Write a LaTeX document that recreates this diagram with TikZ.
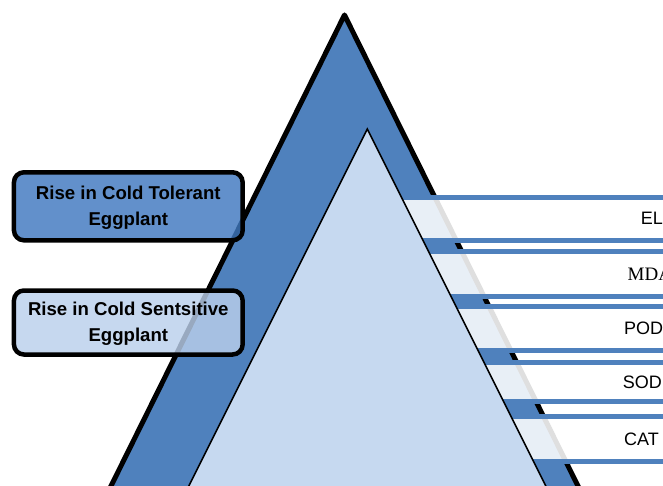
\documentclass[tikz,border=0pt]{standalone}
\usepackage{fontspec}
\setmainfont{Liberation Sans}
\newfontfamily\mdafont{Liberation Serif}
\usetikzlibrary{positioning, calc}

\definecolor{triblue}{HTML}{4F81BD}
\definecolor{trilight}{HTML}{C6D9F0}
\definecolor{tolblue}{HTML}{3F78BF}
\definecolor{senblue}{HTML}{BACFEB}

\begin{document}
\begin{tikzpicture}[x=1pt, y=-1pt, every node/.style={inner sep=0pt}
    , band/.style={fill=white, fill opacity=0.875, draw=triblue, line width=5pt}
    , risebox/.style={minimum width=228.7pt, rounded corners=10pt, draw=black,
        line width=4.5pt, fill opacity=0.82}
    , risetext/.style={align=center, font=\bfseries\fontsize{18.6}{26.4}\selectfont}
    , enzyme/.style={anchor=base west, font=\fontsize{18}{21}\selectfont}
    ]

    \useasboundingbox (0,0) rectangle (663,486);
    \clip (0,0) rectangle (663,486);

    \coordinate (outtop) at (344.5,15);
    \coordinate (intop) at (367.3,129);

    % outer pyramid
    \draw[fill=triblue, line width=5pt, line join=round]
        (outtop) -- ++(-290,585) -- ++(580,0) -- cycle;

    % enzyme bands, they go under the inner pyramid
    \foreach \top/\bot/\base/\tx/\lab [count=\i] in
        {197.5/240/225/640.7/EL, 251.5/296/280.7/627.5/{\mdafont\fontsize{19}{21}\selectfont MDA},
         306/350/334/624/POD, 362/401.5/388.3/622.7/SOD, 416/461/445/624/CAT}
    {
        \draw[band] (380,\top) rectangle (720,\bot);
        \node[enzyme] (enz\i) at (\tx,\base) {\lab};
    }

    % inner pyramid
    \draw[fill=trilight, line width=1.5pt]
        (intop) -- ++(-236,472) -- ++(472,0) -- cycle;

    \node[risebox, fill=tolblue, minimum height=68pt] (tolerant) at (128.3,206.3) {};
    \node[risetext] (toltext) at ([yshift=-1.5pt]tolerant.center)
        {Rise in Cold Tolerant\\Eggplant};
    \node[risebox, fill=senblue, minimum height=64pt] (sensitive) at (128.3,322.5) {};
    \node[risetext] (sentext) at ([yshift=-1pt]sensitive.center)
        {Rise in Cold Sentsitive\\Eggplant};

\end{tikzpicture}
\end{document}
